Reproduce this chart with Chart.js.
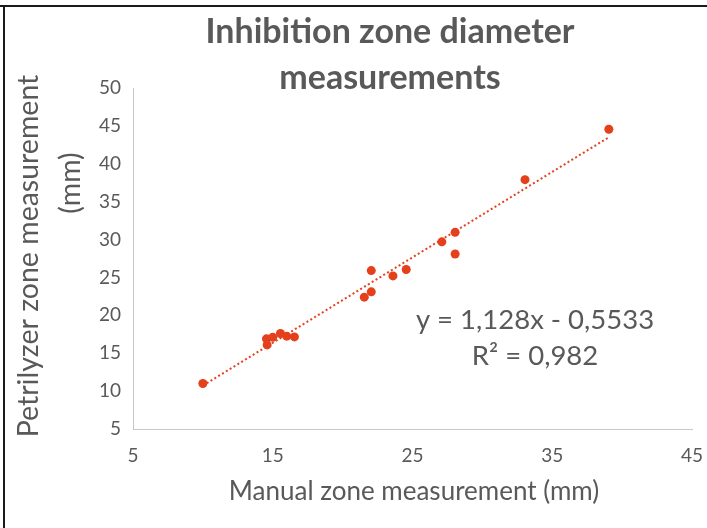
<!DOCTYPE html>
<html><head><meta charset="utf-8">
<script src="https://cdn.jsdelivr.net/npm/chart.js@4.4.1/dist/chart.umd.min.js"></script>
<style>html,body{margin:0;padding:0;background:#fff;} canvas{display:block;}</style>
</head><body>
<canvas id="c" width="707" height="528"></canvas>
<script>
// ---- data ----
const manualX = [10.0, 14.55, 14.6, 15.0, 15.55, 16.0, 16.55, 21.55, 22.05, 22.05, 23.6, 24.55, 27.1, 28.05, 28.05, 33.05, 39.05];
const petriY  = [11.0, 16.9, 16.1, 17.1, 17.6, 17.25, 17.15, 22.4, 23.1, 25.9, 25.2, 26.05, 29.7, 30.95, 28.1, 37.9, 44.55];
const trendX = [10.0, 39.05];
const trendY = [10.73, 43.50];
const xTicks = [5, 15, 25, 35, 45];
const yTicks = [5, 10, 15, 20, 25, 30, 35, 40, 45, 50];
const titleLines = ['Inhibition zone diameter', 'measurements'];
const yTitleLines = ['Petrilyzer zone measurement', '(mm)'];
const xTitle = 'Manual zone measurement (mm)';
const eqLines = ['y = 1,128x - 0,5533', 'R² = 0,982'];

const FONT = 'Lato, "Open Sans", sans-serif';
const TXT = '#595959';
const RED = '#e5401c';

const textPlugin = {
  id: 'texts',
  afterDraw(chart) {
    const ctx = chart.ctx;
    ctx.save();
    // frame
    ctx.fillStyle = '#1a1a1a';
    ctx.fillRect(0, 5, 707, 2);
    ctx.fillRect(3, 5, 2, 523);
    ctx.fillStyle = TXT;
    ctx.textAlign = 'center';
    ctx.textBaseline = 'middle';
    ctx.font = 'bold 34px ' + FONT;
    ctx.fillText(titleLines[0], 390, 32);
    ctx.fillText(titleLines[1], 390, 78);
    ctx.font = '26px ' + FONT;
    ctx.fillText(xTitle, 414, 492);
    ctx.font = '27.5px ' + FONT;
    ctx.fillText(eqLines[0], 535, 320);
    ctx.fillText(eqLines[1], 535, 356);
    ctx.font = '28.5px ' + FONT;
    ctx.save();
    ctx.translate(29, 256);
    ctx.rotate(-Math.PI / 2);
    ctx.fillText(yTitleLines[0], 0, 0);
    ctx.restore();
    ctx.save();
    ctx.translate(71, 183);
    ctx.rotate(-Math.PI / 2);
    ctx.fillText(yTitleLines[1], 0, 0);
    ctx.restore();
    ctx.restore();
  }
};

new Chart(document.getElementById('c'), {
  type: 'scatter',
  data: {
    datasets: [
      {
        label: 'Measurements',
        data: manualX.map((x, i) => ({ x: x, y: petriY[i] })),
        backgroundColor: RED,
        borderColor: RED,
        pointRadius: 4.5,
        pointBorderWidth: 0,
        order: 1
      },
      {
        label: 'Trend',
        type: 'line',
        data: trendX.map((x, i) => ({ x: x, y: trendY[i] })),
        borderColor: RED,
        borderWidth: 2,
        borderDash: [2, 2.5],
        pointRadius: 0,
        fill: false,
        order: 2
      }
    ]
  },
  options: {
    responsive: false,
    animation: false,
    devicePixelRatio: 1,
    layout: { padding: { top: 88, right: 15, bottom: 0, left: 0 } },
    plugins: { legend: { display: false }, tooltip: { enabled: false }, title: { display: false } },
    scales: {
      x: {
        type: 'linear', min: 5, max: 45,
        afterBuildTicks: s => { s.ticks = xTicks.map(v => ({ value: v })); },
        afterFit: s => { s.height = 99; s.paddingRight = 0; s.paddingLeft = 0; },
        grid: { display: false, drawTicks: false },
        border: { display: true, color: '#c8c8c8', width: 1 },
        ticks: { color: TXT, font: { family: FONT, size: 19 }, padding: 15, maxRotation: 0 }
      },
      y: {
        type: 'linear', min: 5, max: 50,
        afterBuildTicks: s => { s.ticks = yTicks.map(v => ({ value: v })); },
        afterFit: s => { s.width = 133; s.paddingTop = 0; s.paddingBottom = 0; },
        grid: { display: false, drawTicks: false },
        border: { display: true, color: '#c8c8c8', width: 1 },
        ticks: { color: TXT, font: { family: FONT, size: 19 }, padding: 12 }
      }
    }
  },
  plugins: [textPlugin]
});
</script>
</body></html>
